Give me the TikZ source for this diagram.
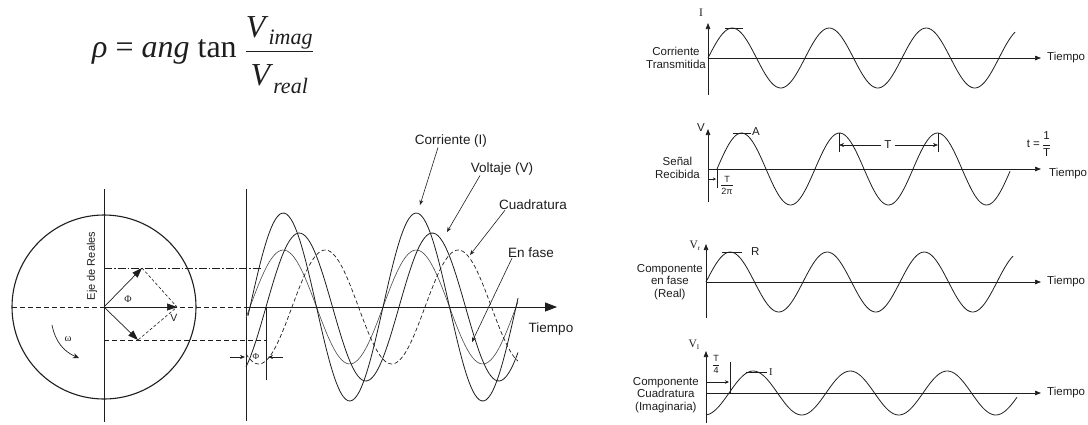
\documentclass[tikz,border=0pt]{standalone}
\usepackage{fontspec}
\setmainfont{Liberation Sans}
\newfontfamily\timesfont{Liberation Serif}
\usetikzlibrary{arrows.meta, positioning, calc}
\definecolor{inkgray}{RGB}{30, 30, 30}
\definecolor{phasegray}{RGB}{70, 70, 70}

\tikzset{
  bigtxt/.style={font=\fontsize{13.5}{15}\selectfont, inner sep=0pt, text=inkgray},
  paneltxt/.style={font=\fontsize{11.5}{12.5}\selectfont, inner sep=0pt, align=center, text=inkgray},
  sertxt/.style={font=\timesfont\fontsize{10.5}{12}\selectfont, inner sep=0pt, text=inkgray},
  wave/.style={line width=0.8pt, inkgray},
  pointer/.style={-{Stealth[length=5pt, width=4pt]}, line width=0.6pt, inkgray},
  axarrow/.style={-{Triangle[length=6pt, width=4.5pt]}, line width=0.7pt, inkgray},
  phasor/.style={-{Triangle[length=10pt, width=7pt]}, line width=0.7pt, inkgray},
  guide/.style={line width=0.6pt, inkgray, dash pattern=on 5pt off 3pt}
}

\begin{document}
\begin{tikzpicture}[x=1pt, y=-1pt]
  \useasboundingbox (0,0) rectangle (1088,424);

  % Formula
  \node[inner sep=0pt, font=\timesfont\fontsize{32}{38}\selectfont, text=inkgray] (rho) at (203,55)
    {\textit{ρ} = \textit{ang} tan $\displaystyle\frac{\hbox{\textit{V}\raisebox{-.5ex}{\fontsize{22}{24}\selectfont\textit{imag}}}}{\hbox{\rule{0pt}{1.05em}\textit{V}\raisebox{-.5ex}{\fontsize{22}{24}\selectfont\textit{real}}}}$};

  % Phasor circle
  \coordinate (o) at (104,307);
  \coordinate (realTop) at (104,189);
  \coordinate (realBot) at (104,422);
  \draw[line width=1.1pt, inkgray] (o) circle[radius=92pt];
  \draw[line width=0.7pt, inkgray] (realBot) -- (realTop);
  \node[font=\fontsize{11}{12}\selectfont, inner sep=0pt, rotate=90, text=inkgray] (eje) at (92,266) {Eje de Reales};

  % Guide lines to the time plot
  \draw[guide] (12,307) -- (246,307);
  \draw[line width=0.6pt, inkgray, dash pattern=on 8pt off 2pt on 1.5pt off 2pt] (104,268) -- (262,268);
  \draw[guide] (104,340) -- (266,340);

  % Phasors
  \coordinate (vUp) at (142,268);
  \coordinate (vLow) at (138,340);
  \coordinate (vSum) at (177,307);
  \draw[phasor] (o) -- (vUp);
  \draw[phasor] (o) -- (vLow);
  \draw[phasor] (o) -- (vSum);
  \draw[line width=0.6pt, inkgray, dash pattern=on 3pt off 2pt] (vUp) -- (vSum) -- (vLow);
  \node[sertxt, font=\timesfont\fontsize{10}{12}\selectfont] (phiC) at (128,299) {Φ};
  \node[paneltxt, font=\fontsize{10.5}{12}\selectfont] (vLbl) at (174,318) {V};
  \node[sertxt] (omega) at (68,339) {ω};
  \draw[-{Stealth[length=6pt, width=5pt]}, line width=0.7pt, inkgray] (52,325) to[bend right=28] (79,358);

  % Time plot
  \coordinate (wo) at (246,307);
  \draw[line width=0.7pt, inkgray] (246,421) -- (246,189);
  \draw[-{Triangle[length=12pt, width=9pt]}, line width=0.8pt, inkgray] (wo) -- (557,307);
  \node[bigtxt] (tiempoL) at (551,329) {Tiempo};

  \draw[line width=0.6pt, phasegray] plot[domain=246:518, samples=120, smooth] (\x, {307-57*sin((\x-250)/133*360)});
  \draw[line width=0.7pt, inkgray, dash pattern=on 4pt off 2.5pt] plot[domain=246:518, samples=120, smooth] (\x, {307-57*sin((\x-292)/133*360)});
  \draw[wave] plot[domain=248:518, samples=120, smooth] (\x, {307-94*sin((\x-250)/133*360)});
  \draw[wave] plot[domain=246:518, samples=120, smooth] (\x, {307-74*sin((\x-266)/133*360)});

  % Phase shift marker
  \draw[line width=0.7pt, inkgray] (266,307) -- (266,380);
  \node[sertxt, font=\timesfont\fontsize{9}{10}\selectfont] (phiT) at (256,357) {Φ};
  \coordinate (phiL) at (230,357);
  \coordinate (phiR) at (283,357);
  \draw[pointer] (phiL) -- (245,357);
  \draw[pointer] (phiR) -- (268,357);

  % Curve labels
  \node[bigtxt] (lblI) at (451,141) {Corriente (I)};
  \node[bigtxt] (lblV) at (502,169) {Voltaje (V)};
  \node[bigtxt] (lblQ) at (533,205) {Cuadratura};
  \node[bigtxt] (lblF) at (531,253) {En fase};
  \coordinate (ptI) at (420,205);
  \coordinate (ptV) at (447,232);
  \coordinate (ptQ) at (470,255);
  \coordinate (ptF) at (472,342);
  \draw[pointer] ([xshift=-13pt]lblI.south) -- (ptI);
  \draw[pointer] ([xshift=-22pt]lblV.south) -- (ptV);
  \draw[pointer] ([xshift=-28pt]lblQ.south) -- (ptQ);
  \draw[pointer] ([xshift=-19pt]lblF.south) -- (ptF);

  % Panel: transmitted current
  \coordinate (p1) at (708,58);
  \draw[axarrow] (708,95) -- (708,23);
  \draw[axarrow] (p1) -- (1041,58);
  \node[sertxt, font=\timesfont\fontsize{11.5}{12}\selectfont] (p1y) at (701,13) {I};
  \node[paneltxt, anchor=west] (p1t) at (1047,58) {Tiempo};
  \node[paneltxt, anchor=east] (p1n) at (706,58) {Corriente\\Transmitida};
  \draw[wave] plot[domain=708:1015, samples=150, smooth] (\x, {58-30*sin((\x-708)/97*360)});
  \draw[line width=0.7pt, inkgray] (725,28) -- (743,28);

  % Panel: received signal
  \coordinate (p2) at (708,169);
  \draw[axarrow] (708,202) -- (708,129);
  \draw[axarrow] (p2) -- (1041,169);
  \node[paneltxt] (p2y) at (701,128) {V};
  \node[paneltxt, anchor=west] (p2t) at (1049,174) {Tiempo};
  \node[paneltxt, anchor=east] (p2n) at (700,168) {Señal\\Recibida};
  \draw[wave] plot[domain=717:1010, samples=150, smooth] (\x, {169-36*sin((\x-717)/98*360)});
  \draw[line width=0.7pt, inkgray] (733,133) -- (751,133);
  \node[paneltxt, anchor=west] (p2a) at (752,132) {A};
  \draw[line width=0.7pt, inkgray] (839,133) -- (839,152);
  \draw[line width=0.7pt, inkgray] (938,133) -- (938,152);
  \node[paneltxt, fill=white, inner xsep=3pt] (p2T) at (888,145) {T};
  \coordinate (tkL) at (839,145);
  \coordinate (tkR) at (938,145);
  \draw[pointer] (p2T) -- (tkL);
  \draw[pointer] (p2T) -- (tkR);
  \node[paneltxt] (p2f) at (1039,144) {t =\,$\displaystyle\frac{\mbox{1}}{\mbox{T}}$};
  \draw[line width=0.7pt, inkgray] (717,169) -- (717,188);
  \coordinate (t2L) at (708,179);
  \draw[-{Stealth[length=3pt, width=3pt]}, line width=0.6pt, inkgray] (t2L) -- (716,179);
  \node[paneltxt, font=\fontsize{9}{10}\selectfont, anchor=west] (p2s) at (720,185) {$\displaystyle\frac{\mbox{T}}{\mbox{2π}}$};

  % Panel: in-phase component
  \coordinate (p3) at (706,282);
  \draw[axarrow] (706,318) -- (706,244);
  \draw[axarrow] (p3) -- (1041,282);
  \node[sertxt, font=\timesfont\fontsize{11.5}{12}\selectfont] (p3y) at (695,246) {V\raisebox{-.3ex}{\fontsize{7}{7}\selectfont r}};
  \node[paneltxt, anchor=west] (p3t) at (1047,282) {Tiempo};
  \node[paneltxt, anchor=east] (p3n) at (703,282) {Componente\\en fase\\(Real)};
  \draw[wave] plot[domain=706:1013, samples=150, smooth] (\x, {282-30*sin((\x-706)/97*360)});
  \draw[line width=0.7pt, inkgray] (722,252) -- (742,252);
  \node[paneltxt, anchor=west] (p3r) at (751,252) {R};

  % Panel: quadrature component
  \coordinate (p4) at (706,393);
  \draw[axarrow] (706,423) -- (706,351);
  \draw[axarrow] (p4) -- (1041,393);
  \node[sertxt, font=\timesfont\fontsize{11.5}{12}\selectfont] (p4y) at (694,345) {V\raisebox{-.3ex}{\fontsize{7}{7}\selectfont I}};
  \node[paneltxt, anchor=west] (p4t) at (1047,393) {Tiempo};
  \node[paneltxt, anchor=east] (p4n) at (699,395) {Componente\\Cuadratura\\(Imaginaria)};
  \draw[wave] plot[domain=706:1017, samples=150, smooth] (\x, {393-22*sin((\x-729)/97*360)});
  \draw[line width=0.7pt, inkgray] (730,362) -- (730,393);
  \coordinate (t4L) at (706,382);
  \draw[-{Stealth[length=4pt, width=3.5pt]}, line width=0.6pt, inkgray] (t4L) -- (729,382);
  \node[paneltxt, font=\fontsize{9}{10}\selectfont] (p4s) at (716,364) {$\displaystyle\frac{\mbox{T}}{\mbox{4}}$};
  \draw[line width=0.7pt, inkgray] (746,372) -- (767,372);
  \node[sertxt, anchor=west] (p4i) at (769,372) {I};
\end{tikzpicture}
\end{document}
